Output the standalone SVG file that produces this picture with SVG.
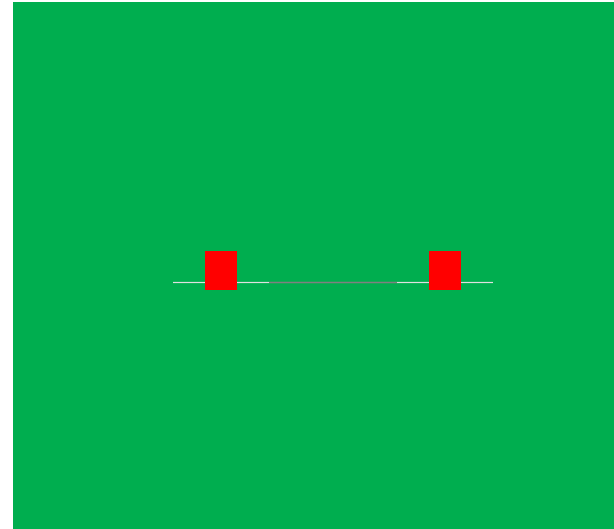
<svg xmlns="http://www.w3.org/2000/svg" width="614" height="529" viewBox="0 0 614 529">
<style>
.node{fill:#ff0000;stroke:none}
.wire{stroke:#e0e0e0;stroke-width:1.2;fill:none}
.wire2{stroke:#808080;stroke-width:1.5;fill:none}
</style>
<rect x="0" y="0" width="614" height="529" fill="#ffffff"/>
<rect x="13" y="2" width="601" height="527" fill="#00ae4f"/>
<g id="connectors">
<line class="wire" x1="173" y1="282.5" x2="205" y2="282.5"/>
<line class="wire" x1="237" y1="282.5" x2="269" y2="282.5"/>
<line class="wire2" x1="269" y1="282.5" x2="397" y2="282.5"/>
<line class="wire" x1="397" y1="282.5" x2="429" y2="282.5"/>
<line class="wire" x1="461" y1="282.5" x2="493" y2="282.5"/>
</g>
<g id="node1"><rect class="node" x="205" y="251" width="32" height="39"/></g>
<g id="node2"><rect class="node" x="429" y="251" width="32" height="39"/></g>
</svg>
